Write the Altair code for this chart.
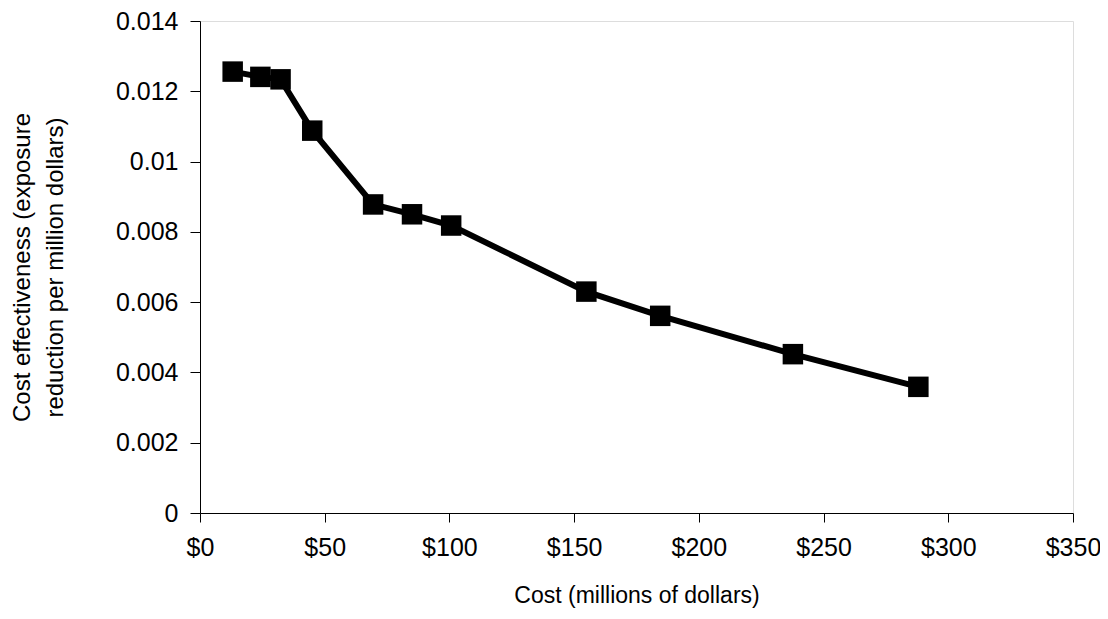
import altair as alt
import pandas as pd

cost = [13.1, 24.2, 32.3, 45.0, 69.4, 85.0, 100.7, 154.9, 184.5, 237.7, 288.0]
effectiveness = [0.01256, 0.01241, 0.01234, 0.01088, 0.00878, 0.00850, 0.00818,
                 0.00630, 0.00561, 0.00452, 0.00359]
x_ticks = [0, 50, 100, 150, 200, 250, 300, 350]
y_ticks = [0, 0.002, 0.004, 0.006, 0.008, 0.01, 0.012, 0.014]

df = pd.DataFrame({"cost": cost, "eff": effectiveness})

FONT = "Liberation Sans"

x = alt.X("cost:Q",
          scale=alt.Scale(domain=[0, 350], nice=False, zero=True),
          axis=alt.Axis(values=x_ticks, labelExpr="'$' + datum.value",
                        title="Cost (millions of dollars)",
                        grid=False, domainColor="black", tickColor="black",
                        tickSize=9, labelPadding=13, labelFontSize=25,
                        labelFont=FONT, labelColor="black",
                        titleFont=FONT, titleFontSize=23, titleFontWeight="normal",
                        titleColor="black", titlePadding=24, labelFlush=False))
y = alt.Y("eff:Q",
          scale=alt.Scale(domain=[0, 0.014], nice=False),
          axis=alt.Axis(values=y_ticks, format="~f",
                        title=["Cost effectiveness (exposure", "reduction per million dollars)"],
                        grid=False, domainColor="black", tickColor="black",
                        tickSize=10, labelPadding=12, labelFontSize=25,
                        labelFont=FONT, labelColor="black",
                        titleFont=FONT, titleFontSize=24, titleFontWeight="normal",
                        titleColor="black", titlePadding=48, titleLineHeight=33,
                        labelFlush=False))

line = alt.Chart(df).mark_line(color="black", strokeWidth=6).encode(x=x, y=y)
pts = alt.Chart(df).mark_point(shape="square", filled=True, color="black",
                               size=420, opacity=1).encode(x=x, y=y)

chart = (line + pts).properties(
    width=873, height=492,
    autosize=alt.AutoSizeParams(type="none"),
    padding={"left": 192, "top": 13, "right": 27, "bottom": 98},
).configure_view(stroke="black", strokeWidth=1.5).configure(background="white")

chart.save("out.html", embed_options={"renderer": "svg", "actions": False})
